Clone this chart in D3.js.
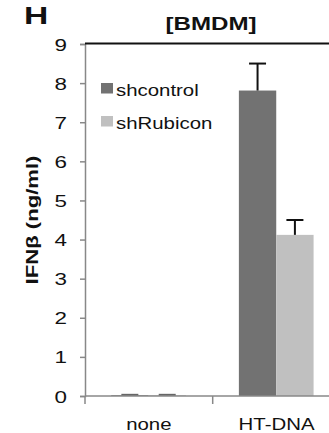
<!DOCTYPE html>
<html>
<head>
<meta charset="utf-8">
<script src="https://cdn.jsdelivr.net/npm/d3@7"></script>
<style>
  body { margin: 0; background: #fff; }
  svg { display: block; font-family: "Liberation Sans", Arial, sans-serif; }
</style>
</head>
<body>
<div id="chart"></div>
<script>
// IFNb bar chart //////////////////////////////////////////////////////////////

var categories = ['none', 'HT-DNA'];
var series = ['shcontrol', 'shRubicon'];
var shcontrol = [0.02, 7.81];
var shRubicon = [0.02, 4.12];
var shcontrolErr = [0.01, 0.69];
var shRubiconErr = [0.01, 0.38];
var yTicks = [0, 1, 2, 3, 4, 5, 6, 7, 8, 9];

var colors = {shcontrol: '#727272', shRubicon: '#c0c0c0'};

///////////////////////////////////////////////////////////////////////////////

var width = 329, height = 433;
var plotLeft = 85, plotRight = 340.4, plotTop = 44, plotBottom = 396;

var svg = d3.select('#chart').append('svg')
  .attr('width', width)
  .attr('height', height);

var x = d3.scaleBand().domain(categories).range([plotLeft, plotRight]);
var xs = d3.scaleBand().domain(series)
  .range([x.bandwidth() * 0.205, x.bandwidth() * 0.79]);
var y = d3.scaleLinear().domain([0, 9]).range([plotBottom, plotTop]);

var rows = [];
categories.forEach(function(c, i) {
  rows.push({cat: c, s: 'shcontrol', v: shcontrol[i], e: shcontrolErr[i]});
  rows.push({cat: c, s: 'shRubicon', v: shRubicon[i], e: shRubiconErr[i]});
});

// text in the source is drawn wider than normal, so stretch it sideways
function stretchedText(g, tx, ty, txt, size, sx, bold, anchor) {
  return g.append('text')
    .attr('transform', 'translate(' + tx + ',' + ty + ') scale(' + sx + ',1)')
    .attr('text-anchor', anchor || 'start')
    .style('font-size', size + 'px')
    .style('font-weight', bold ? 'bold' : 'normal')
    .style('fill', '#111')
    .text(txt);
}

// bars
svg.append('g').selectAll('rect')
  .data(rows)
  .enter().append('rect')
  .attr('x', function(d){ return x(d.cat) + xs(d.s); })
  .attr('width', xs.bandwidth())
  .attr('y', function(d){ return y(d.v); })
  .attr('height', function(d){ return y(0) - y(d.v); })
  .style('fill', function(d){ return colors[d.s]; });

// error bars
var err = svg.append('g').selectAll('g')
  .data(rows)
  .enter().append('g')
  .attr('transform', function(d){ return 'translate(' + (x(d.cat) + xs(d.s) + xs.bandwidth() / 2) + ',0)'; });

err.append('line')
  .attr('y1', function(d){ return y(d.v); })
  .attr('y2', function(d){ return y(d.v + d.e); })
  .style('stroke', '#111').style('stroke-width', 2);
err.append('line')
  .attr('x1', -8.5).attr('x2', 8.5)
  .attr('y1', function(d){ return y(d.v + d.e); })
  .attr('y2', function(d){ return y(d.v + d.e); })
  .style('stroke', function(d){ return d.v < 0.1 ? '#666' : '#111'; })
  .style('stroke-width', 2);

// y axis
var yAxis = svg.append('g')
  .attr('transform', 'translate(' + plotLeft + ',0)')
  .call(d3.axisLeft(y).tickValues(yTicks).tickSize(5).tickPadding(12));
yAxis.select('.domain').style('stroke', '#888').style('stroke-width', 1.5);
yAxis.selectAll('.tick line').style('stroke', '#888').style('stroke-width', 1.5);
yAxis.selectAll('.tick text').remove();
yAxis.selectAll('.tick').each(function(d) {
  stretchedText(d3.select(this), -18, 6, d, 16, 1.4, false, 'end');
});

// x axis
svg.append('line')
  .attr('x1', plotLeft).attr('x2', plotRight)
  .attr('y1', plotBottom).attr('y2', plotBottom)
  .style('stroke', '#888').style('stroke-width', 1.5);
svg.append('g').selectAll('line')
  .data([plotLeft, x(categories[1])])
  .enter().append('line')
  .attr('x1', function(d){ return d; }).attr('x2', function(d){ return d; })
  .attr('y1', plotBottom).attr('y2', plotBottom + 8)
  .style('stroke', '#888').style('stroke-width', 1.5);
categories.forEach(function(c) {
  stretchedText(svg, x(c) + x.bandwidth() / 2, 430, c, 17, 1.2, false, 'middle');
});

// top border
svg.append('line')
  .attr('x1', plotLeft).attr('x2', width)
  .attr('y1', plotTop - 0.5).attr('y2', plotTop - 0.5)
  .style('stroke', '#111').style('stroke-width', 2);

// legend
var legend = svg.append('g').selectAll('g')
  .data(series)
  .enter().append('g')
  .attr('transform', function(d, i){ return 'translate(101,' + (83 + i * 33) + ')'; });
legend.append('rect')
  .attr('width', 12).attr('height', 10.5)
  .style('fill', function(d){ return colors[d]; });
legend.each(function(d) {
  stretchedText(d3.select(this), 15, 12.5, d, 17, 1.2, false, 'start');
});

// titles
stretchedText(svg, 211, 30, '[BMDM]', 18, 1.34, true, 'middle');
stretchedText(svg, 24, 24, 'H', 24, 1.4, true, 'start');

svg.append('text')
  .attr('transform', 'translate(38,220) rotate(-90) scale(1.3,1)')
  .attr('text-anchor', 'middle')
  .style('font-size', '17px')
  .style('font-weight', 'bold')
  .style('fill', '#111')
  .text('IFNβ (ng/ml)');
</script>
</body>
</html>
